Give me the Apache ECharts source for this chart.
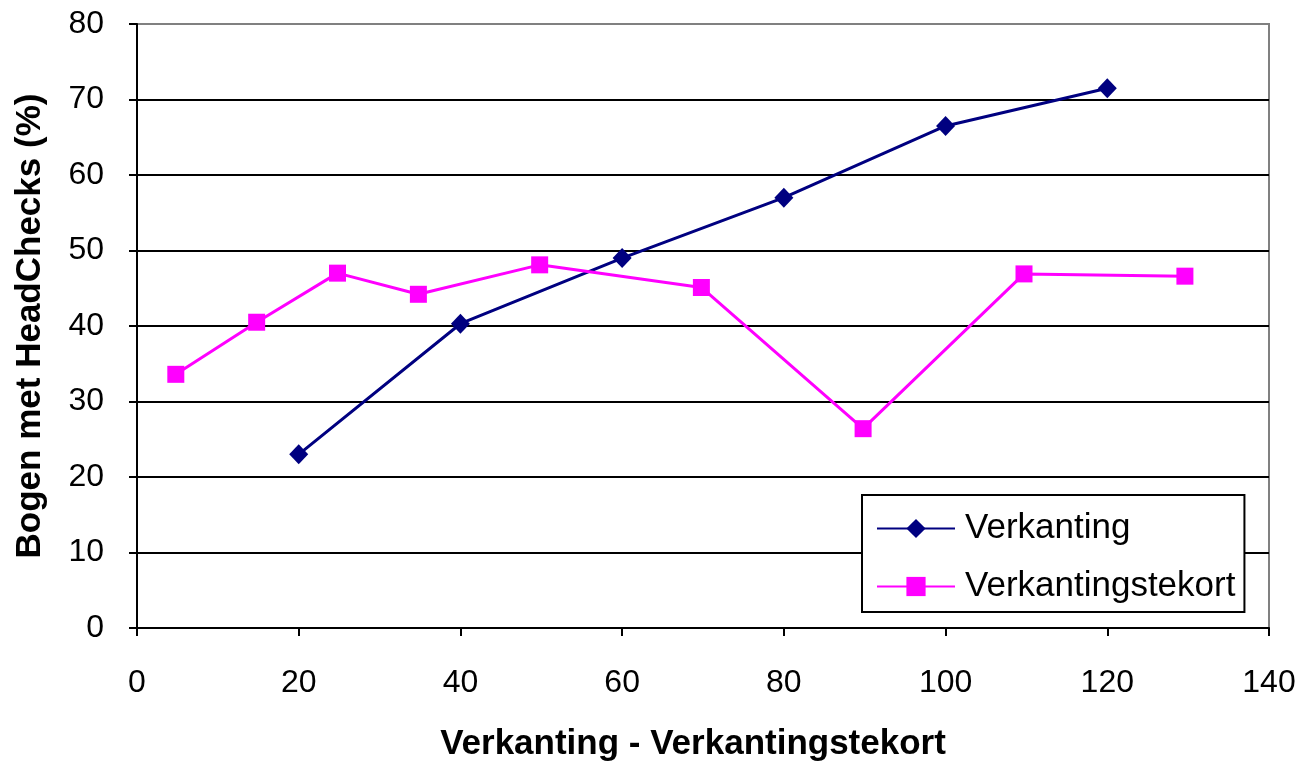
<!DOCTYPE html>
<html><head><meta charset="utf-8">
<script src="https://cdn.jsdelivr.net/npm/echarts@6/dist/echarts.min.js"></script>
<style>html,body{margin:0;padding:0;background:#fff}#c{width:1304px;height:767px}</style>
</head><body><div id="c"></div>
<script>
const verkantingX = [20, 40, 60, 80, 100, 120];
const verkantingY = [23, 40.3, 49, 57, 66.5, 71.5];
const tekortX = [4.8, 14.8, 24.8, 34.8, 49.8, 69.8, 89.8, 109.7, 129.6];
const tekortY = [33.6, 40.5, 47, 44.2, 48.1, 45.1, 26.4, 46.9, 46.6];
const seriesNames = ['Verkanting', 'Verkantingstekort'];
const xTitle = 'Verkanting - Verkantingstekort';
const yTitle = 'Bogen met HeadChecks (%)';

const font = 'Liberation Sans, Arial, sans-serif';
const chart = echarts.init(document.getElementById('c'));
chart.setOption({
  animation: false,
  backgroundColor: '#fff',
  grid: {left: 137, right: 35, top: 24, bottom: 137, show: true, borderColor: '#808080', borderWidth: 2},
  xAxis: {
    type: 'value', min: 0, max: 140, interval: 20,
    name: xTitle, nameLocation: 'middle', nameGap: 99,
    nameTextStyle: {fontFamily: font, fontSize: 35, fontWeight: 'bold', color: '#000', padding: [0, 20, 0, 0]},
    axisLine: {lineStyle: {color: '#000', width: 2}},
    axisTick: {show: true, length: 8, lineStyle: {color: '#000', width: 2}},
    axisLabel: {fontFamily: font, fontSize: 32, color: '#000', margin: 39},
    splitLine: {show: false}
  },
  yAxis: {
    type: 'value', min: 0, max: 80, interval: 10,
    name: yTitle, nameLocation: 'middle', nameGap: 89,
    nameTextStyle: {fontFamily: font, fontSize: 35, fontWeight: 'bold', color: '#000'},
    axisLine: {show: true, lineStyle: {color: '#000', width: 2}},
    axisTick: {show: true, length: 8, lineStyle: {color: '#000', width: 2}},
    axisLabel: {fontFamily: font, fontSize: 32, color: '#000', margin: 33},
    splitLine: {show: true, lineStyle: {color: ['#000','#000','#000','#000','#000','#000','#000','#000','#808080'], width: 2}}
  },
  legend: {
    orient: 'vertical', left: 862, top: 495,
    backgroundColor: '#fff', borderColor: '#000', borderWidth: 2,
    padding: [16, 9, 8, 14], itemGap: 23, itemWidth: 78, itemHeight: 24,
    textStyle: {fontFamily: font, fontSize: 35, color: '#000', padding: [0,0,0,5]},
    data: seriesNames
  },
  series: [
    {name: seriesNames[0], type: 'line', data: verkantingX.map((x,i)=>[x, verkantingY[i]]),
     symbol: 'diamond', symbolSize: [19, 20], color: '#000080',
     lineStyle: {color: '#000080', width: 3}, itemStyle: {color: '#000080'}},
    {name: seriesNames[1], type: 'line', data: tekortX.map((x,i)=>[x, tekortY[i]]),
     symbol: 'rect', symbolSize: 17, color: '#FF00FF',
     lineStyle: {color: '#FF00FF', width: 3}, itemStyle: {color: '#FF00FF'}}
  ]
});
</script></body></html>
